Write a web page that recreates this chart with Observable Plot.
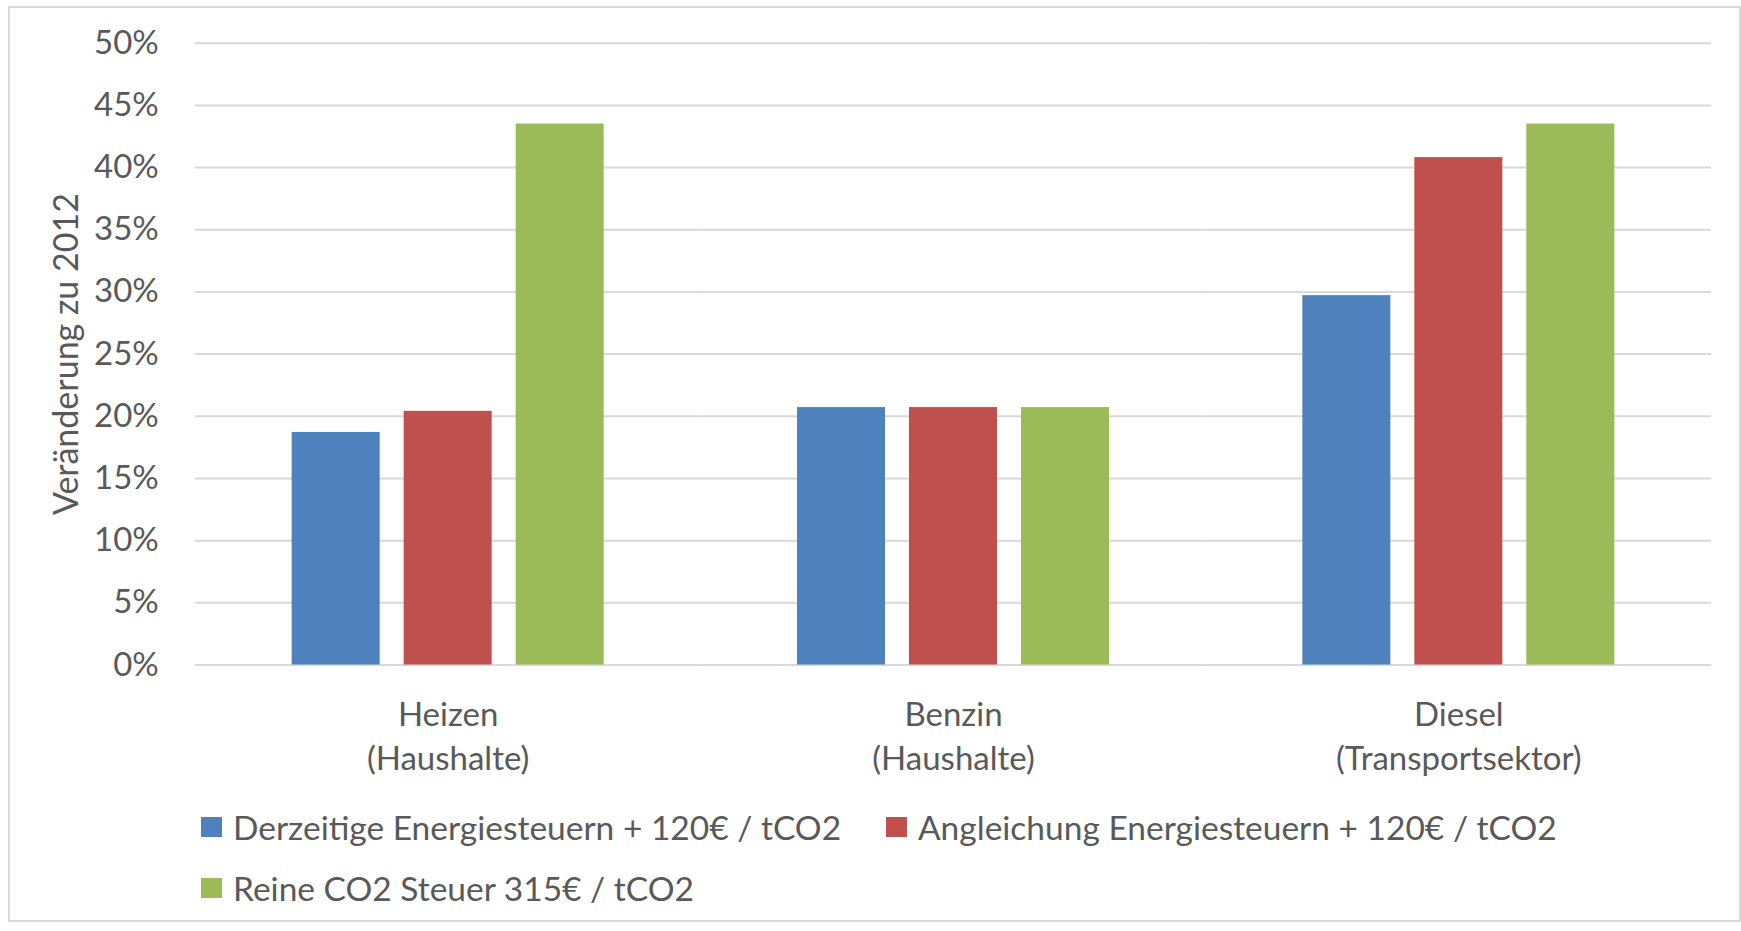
<!DOCTYPE html>
<html>
<head>
<meta charset="utf-8">
<script src="https://cdn.jsdelivr.net/npm/d3@7"></script>
<script src="https://cdn.jsdelivr.net/npm/@observablehq/plot@0.6"></script>
<style>
html, body { margin: 0; padding: 0; background: #fff; }
#wrap { position: relative; width: 1741px; height: 931px; overflow: hidden; font-family: Lato, sans-serif; color: #595959; }
#frame { position: absolute; left: 8px; top: 6px; width: 1733px; height: 916px; border: 2px solid #d9d9d9; box-sizing: border-box; }
#chart { position: absolute; left: 0; top: 0; }
#legend { position: absolute; left: 201px; top: 807px; display: grid; grid-template-columns: 685px auto; row-gap: 21px; }
.item { display: flex; align-items: center; height: 40px; font-size: 33.5px; line-height: 40px; white-space: nowrap; }
.sw { width: 21px; height: 20px; margin-right: 11px; flex: none; }
</style>
</head>
<body>
<div id="wrap">
  <div id="frame"></div>
  <div id="chart"></div>
  <div id="legend"></div>
</div>
<script>
const categories = ["Heizen\n(Haushalte)", "Benzin\n(Haushalte)", "Diesel\n(Transportsektor)"];
const series = [
  "Derzeitige Energiesteuern + 120€ / tCO2",
  "Angleichung Energiesteuern + 120€ / tCO2",
  "Reine CO2 Steuer 315€ / tCO2"
];
const derzeitige = [0.187, 0.207, 0.297];
const angleichung = [0.204, 0.207, 0.408];
const reine = [0.435, 0.207, 0.435];
const colors = ["#4F81BD", "#C0504D", "#9BBB59"];
const yTicks = [0, 0.05, 0.10, 0.15, 0.20, 0.25, 0.30, 0.35, 0.40, 0.45, 0.50];
const yLabel = "Veränderung zu 2012";

const data = [];
[derzeitige, angleichung, reine].forEach((vals, si) =>
  vals.forEach((v, ci) => data.push({cat: categories[ci], series: series[si], value: v})));

const plot = Plot.plot({
  width: 1741,
  height: 780,
  marginTop: 42.7,
  marginBottom: 115.5,
  marginLeft: 195,
  marginRight: 30,
  style: {fontFamily: "Lato, sans-serif", fontSize: "33px", color: "#595959", background: "transparent", overflow: "visible"},
  fx: {domain: categories, padding: 0, round: false},
  x: {domain: series, paddingInner: 0.214, paddingOuter: 0.863, round: false, axis: null},
  y: {domain: [0, 0.5]},
  color: {domain: series, range: colors},
  marks: [
    Plot.ruleY(yTicks, {stroke: "#d9d9d9", strokeWidth: 2}),
    Plot.barY(data, {fx: "cat", x: "series", y: "value", fill: "series"}),
    Plot.axisY({ticks: yTicks, tickFormat: d3.format(".0%"), tickSize: 0, tickPadding: 36.7, label: null}),
    Plot.axisY({ticks: [], label: yLabel, labelAnchor: "center", labelArrow: "none", labelOffset: 142, fontSize: 34}),
    Plot.axisFx({anchor: "bottom", tickSize: 0, tickPadding: 29.3, lineHeight: 1.333, label: null})
  ]
});
document.getElementById("chart").appendChild(plot);

const legend = document.getElementById("legend");
series.forEach((s, i) => {
  const item = document.createElement("div");
  item.className = "item";
  const sw = document.createElement("span");
  sw.className = "sw";
  sw.style.background = colors[i];
  const t = document.createElement("span");
  t.textContent = s;
  item.appendChild(sw);
  item.appendChild(t);
  legend.appendChild(item);
});
</script>
</body>
</html>
